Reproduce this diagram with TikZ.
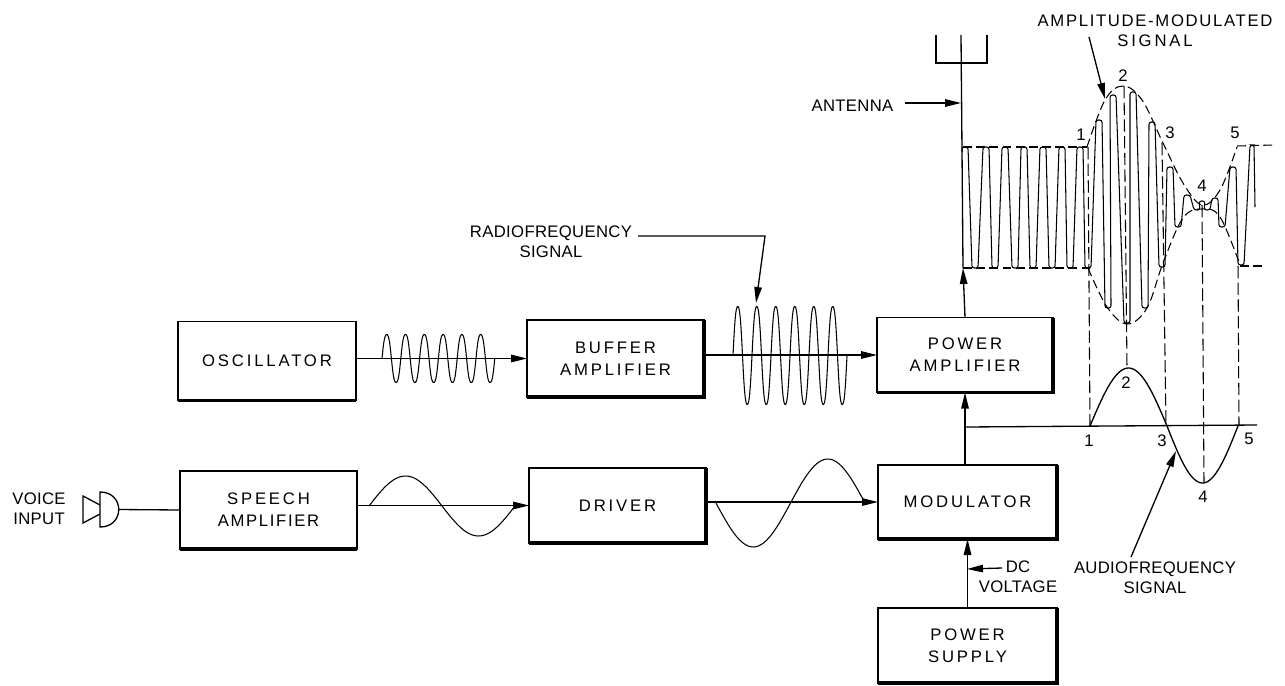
\documentclass[tikz,border=0pt]{standalone}
\usepackage{fontspec}
\setmainfont{Liberation Sans}[LetterSpace=2]
\newfontfamily\midfont{Liberation Sans}[LetterSpace=10]
\newfontfamily\widefont{Liberation Sans}[LetterSpace=17]
\usetikzlibrary{arrows.meta, positioning, calc}

\begin{document}
\begin{tikzpicture}[
    x=0.2mm, y=-0.2mm,
    >={Triangle[length=3.2mm, width=1.5mm]},
    line width=0.75pt,
    block/.style={draw, inner sep=0pt, outer sep=0pt, align=center, font=\fontsize{9.5}{12.6}\selectfont\widefont},
    lbl/.style={inner sep=0pt, align=center, font=\fontsize{9.5}{11.5}\selectfont},
    num/.style={inner sep=0pt, font=\fontsize{9.5}{11}\selectfont},
    heavy/.style={line width=1.9pt},
    wave/.style={line width=0.6pt},
    envelope/.style={line width=0.6pt, dash pattern=on 5pt off 2.5pt},
    drop/.style={line width=0.6pt, dash pattern=on 7pt off 2.5pt}
]
\useasboundingbox (0,0) rectangle (1285,685);

% Blocks
\node[block, minimum width=3.56cm, minimum height=1.58cm] (osc) at (267,361) {OSCILLATOR};
\node[block, minimum width=3.54cm, minimum height=1.56cm] (speech) at (268.5,510) {SPEECH\\{\midfont AMPLIFIER}};
\node[block, minimum width=3.54cm, minimum height=1.54cm] (buffer) at (615.5,358.5) {BUFFER\\AMPLIFIER};
\node[block, minimum width=3.54cm, minimum height=1.50cm] (driver) at (617.5,505.5) {DRIVER};
\node[block, minimum width=3.52cm, minimum height=1.50cm] (pa) at (965,355) {POWER\\AMPLIFIER};
\node[block, minimum width=3.58cm, minimum height=1.48cm] (mod) at (967.5,502) {MODULATOR};
\node[block, minimum width=3.58cm, minimum height=1.50cm] (ps) at (967.5,645.5) {POWER\\SUPPLY};

% Heavy edges of the blocks
\draw[heavy] (osc.south west) -- (osc.south east);
\draw[heavy] (speech.south west) -- (speech.south east);
\foreach \blk in {buffer, driver, pa, mod, ps}
    \draw[heavy] (\blk.south west) -- (\blk.south east) -- (\blk.north east);

% Voice input
\node[lbl] (voice) at (39,508.5) {VOICE\\INPUT};
\coordinate (micout) at (119,509.5);
\draw (100,492) .. controls (125,492) and (125,527) .. (100,527) -- cycle;
\draw (100,505) -- (83,496) -- (83,523) -- (100,514);
\draw (micout) -- (speech.west);

% Chain
\draw[->] (osc.east |- buffer.west) -- (buffer.west);
\draw[->] (buffer.east |- pa.west) -- (pa.west);
\draw[->] (speech.east |- driver.west) -- (driver.west);
\draw[->] (driver.east |- mod.west) -- (mod.west);
\draw[->] (pa.south |- mod.north) -- (pa.south);
\draw[->] (ps.north) -- (mod.south);

% Antenna
\coordinate (mastbase) at (963,268);
\coordinate (masttop) at (961,35);
\coordinate (forkleft) at (936,63);
\coordinate (forkright) at (987,63);
\draw[->] (pa.north) -- (mastbase);
\draw (mastbase) -- (masttop);
\draw (936,35) -- (forkleft) -- (forkright) -- (987,35);
\node[lbl, anchor=east] (antenna) at (894,106) {ANTENNA};
\coordinate (anttail) at (905,103);
\coordinate (antarrow) at (961,103);
\draw[->] (anttail) -- (antarrow);

% Signals on the chain
\draw[wave] plot[domain=0:2160, samples=260] ({382+\x*0.05222},{358.5-24*sin(\x)*(1.25-0.25*sin(\x)*sin(\x))});
\draw[wave] plot[domain=0:2160, samples=260] ({733+\x*0.05278},{355.5-49*sin(\x)*(1.25-0.25*sin(\x)*sin(\x))});
\draw[wave] plot[domain=0:360, samples=60] ({369+\x*0.4056},{506-30*sin(\x)});
\draw[wave] plot[domain=0:360, samples=60] ({716+\x*0.4139},{503+44*sin(\x)});

% Modulated carrier
\draw[wave, rounded corners=1.4pt] (962,152)
    \foreach \px/\py/\tx/\ty in {965/147/975/268, 986/147/995/268, 1005/147/1015/268, 1024/147/1033/268,
        1043/147/1052/268, 1062/147/1070/268, 1080/147/1088/268, 1099/120/1108/308, 1113/95/1127/323,
        1133/92/1145/308, 1152/122/1162/267, 1170/167/1178/227, 1187/195/1197/210, 1202/201/1207/210,
        1215/198/1222/227, 1233/167/1241/265}
    { -- (\px-3,\py) -- (\px+3,\py) -- (\tx-3,\ty) -- (\tx+3,\ty) }
    -- (1250,145) -- (1254,145) -- (1255,207);

% Envelope
\draw[envelope] (963,147) -- (1087,147);
\draw[envelope] (963,268) -- (1090,268);
\draw[envelope] plot[smooth, tension=0.6] coordinates {(1087,147) (1105,100) (1123,86) (1142,100) (1163,143) (1183,183) (1202,205) (1220,190) (1237,147)};
\draw[envelope] plot[smooth, tension=0.6] coordinates {(1088,268) (1107,307) (1127,324) (1147,308) (1163,263) (1183,218) (1202,209) (1220,217) (1240,265)};
\draw[envelope] (1237,146) -- (1273,145);
\draw[envelope] (1240,266) -- (1266,266);

% Audio axis and wave
\coordinate (axisstart) at (965,427);
\coordinate (axisend) at (1257,425);
\draw (axisstart) -- (axisend);
\draw plot[domain=0:180, samples=40] ({1090+\x*0.4278},{426-58*sin(\x)});
\draw plot[domain=0:180, samples=40] ({1167+\x*0.3944},{426+57*sin(\x)});

% Dropped lines
\draw[drop] (1088,147) -- (1090,426);
\draw[drop] (1124,86) -- (1127,368);
\draw[drop] (1162,143) -- (1166,426);
\draw[drop] (1202,205) -- (1204,483);
\draw[drop] (1238,266) -- (1239,426);

% Numbers
\node[num] (t1) at (1081,135) {1};
\node[num] (t2) at (1123,76) {2};
\node[num] (t3) at (1170,133) {3};
\node[num] (t4) at (1202,186) {4};
\node[num] (t5) at (1235,133) {5};
\node[num] (b1) at (1089,441) {1};
\node[num] (b2) at (1126,383) {2};
\node[num] (b3) at (1162,441) {3};
\node[num] (b4) at (1203,497) {4};
\node[num] (b5) at (1249,439) {5};

% Labels
\node[lbl] (amlabel) at (1155,31) {\midfont AMPLITUDE-MODULATED\\\widefont SIGNAL};
\coordinate (amtip) at (1105,99);
\draw[->] (1089,37) -- (amtip);
\node[lbl] (rflabel) at (551,241.5) {RADIOFREQUENCY\\SIGNAL};
\coordinate (rftip) at (756,303);
\draw[->] (638,236) -- (765,236) -- (rftip);
\node[lbl] (aflabel) at (1155,578) {AUDIOFREQUENCY\\SIGNAL};
\coordinate (aftip) at (1176,451);
\draw[->] (1131,557) -- (aftip);
\node[lbl] (dclabel) at (1018,576.5) {DC\\VOLTAGE};
\coordinate (dctip) at (967,569);
\draw[->] (1002,568) -- (dctip);

\end{tikzpicture}
\end{document}
